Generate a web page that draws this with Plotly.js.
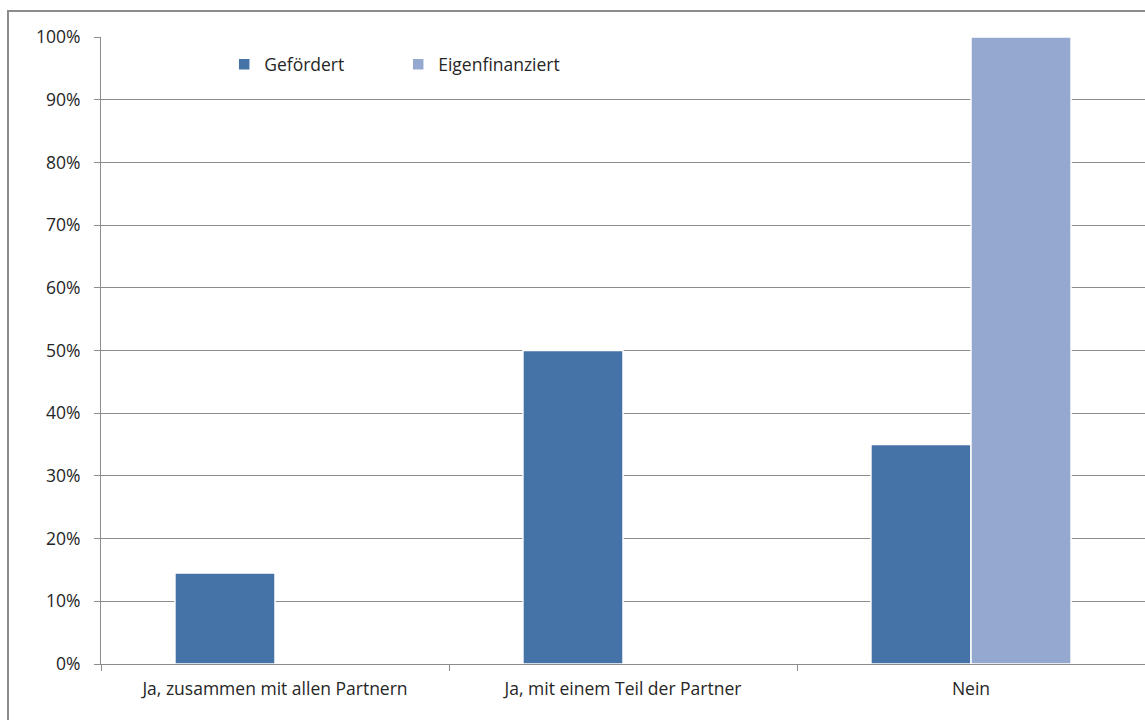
<!DOCTYPE html>
<html>
<head>
<meta charset="utf-8">
<script src="https://cdn.plot.ly/plotly-3.0.1.min.js"></script>
<style>
  html, body { margin: 0; padding: 0; background: #fff; overflow: hidden; }
  #frame { position: absolute; left: 7px; top: 10px; width: 1200px; height: 800px; border: 2px solid #8c8c8c; box-sizing: border-box; }
  #chart { position: absolute; left: 0; top: 0; width: 1145px; height: 720px; }
</style>
</head>
<body>
<div id="frame"></div>
<div id="chart"></div>
<script>
const categories = ["Ja, zusammen mit allen Partnern", "Ja, mit einem Teil der Partner", "Nein"];
const gefoerdert = [0.145, 0.50, 0.35];
const eigenfinanziert = [0, 0, 1.00];
const seriesNames = ["Gefördert", "Eigenfinanziert"];
const yTickVals = [0, 0.1, 0.2, 0.3, 0.4, 0.5, 0.6, 0.7, 0.8, 0.9, 1.0];
const yTickText = ["0%", "10%", "20%", "30%", "40%", "50%", "60%", "70%", "80%", "90%", "100%"];

const font = { family: "Open Sans, Liberation Sans, sans-serif", size: 17.5, color: "#262626" };

const traces = [
  { type: "bar", name: seriesNames[0], x: categories, y: gefoerdert,
    marker: { color: "#4572A7", line: { color: "#ffffff", width: 1.5 } }, hoverinfo: "none" },
  { type: "bar", name: seriesNames[1], x: categories, y: eigenfinanziert,
    marker: { color: "#95A9D0", line: { color: "#ffffff", width: 1.5 } }, hoverinfo: "none" }
];

const layout = {
  width: 1145, height: 720,
  margin: { l: 101, r: 0, t: 37, b: 56 },
  paper_bgcolor: "rgba(0,0,0,0)",
  plot_bgcolor: "rgba(0,0,0,0)",
  font: font,
  barmode: "group",
  bargap: 0.425,
  bargroupgap: 0,
  showlegend: true,
  legend: {
    orientation: "h", x: 0.118, y: 0.985, xanchor: "left", yanchor: "top",
    font: font, bgcolor: "rgba(0,0,0,0)", entrywidth: 129, entrywidthmode: "pixels",
    itemwidth: 30
  },
  xaxis: {
    type: "category", range: [-0.5, 2.5],
    showline: true, linecolor: "#8c8c8c", linewidth: 1,
    ticks: "outside", tickson: "boundaries", ticklen: 6, tickcolor: "#8c8c8c",
    ticklabelstandoff: 9,
    showgrid: false, tickfont: font, fixedrange: true
  },
  yaxis: {
    range: [0, 1.0], tickvals: yTickVals, ticktext: yTickText,
    showline: true, linecolor: "#8c8c8c", linewidth: 1,
    ticks: "outside", ticklen: 6, tickcolor: "#8c8c8c",
    ticklabelstandoff: 10,
    showgrid: true, gridcolor: "#8c8c8c", gridwidth: 1,
    zeroline: false, tickfont: font, fixedrange: true
  }
};

Plotly.newPlot("chart", traces, layout, { displayModeBar: false, staticPlot: true });
</script>
</body>
</html>
